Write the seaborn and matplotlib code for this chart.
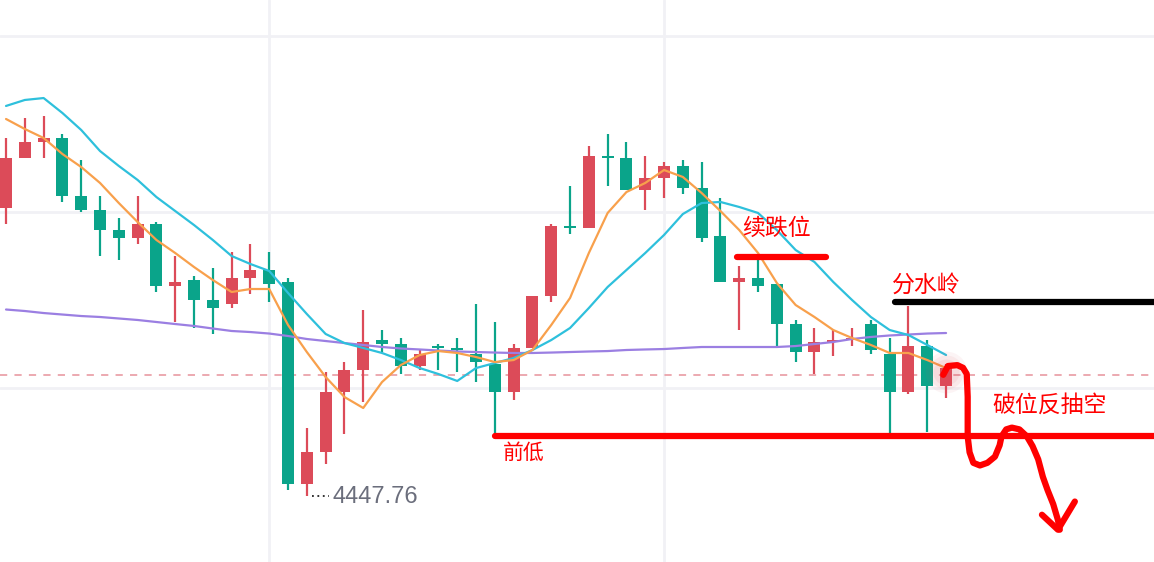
import numpy as np
import pandas as pd
import matplotlib
matplotlib.use("Agg")
import matplotlib.pyplot as plt
import seaborn as sns

# ---------------- data ----------------
opens = [4480.45, 4486.14, 4487.95, 4488.41, 4481.82, 4480.23, 4477.95, 4477.05, 4478.64, 4471.59,
         4472.27, 4470.00, 4469.55, 4472.50, 4473.41, 4472.05, 4449.09, 4452.73, 4459.55, 4462.05,
         4465.45, 4465.00, 4462.50, 4464.77, 4464.55, 4463.86, 4462.73, 4459.55, 4464.55, 4470.45,
         4478.41, 4478.18, 4486.36, 4486.14, 4482.50, 4483.86, 4485.23, 4482.73, 4477.27, 4472.05,
         4472.50, 4471.82, 4467.27, 4464.09, 4465.23, 4465.45, 4467.27, 4463.86, 4459.55, 4464.77,
         4460.23]
highs = [4488.41, 4490.68, 4490.91, 4488.86, 4485.91, 4481.82, 4479.32, 4481.82, 4478.86, 4475.00,
         4472.73, 4473.64, 4475.45, 4476.36, 4475.45, 4472.50, 4455.45, 4461.82, 4462.95, 4468.86,
         4466.59, 4465.68, 4464.32, 4465.00, 4465.68, 4469.55, 4467.50, 4465.00, 4470.45, 4478.64,
         4482.95, 4487.50, 4488.86, 4487.95, 4486.36, 4485.68, 4485.91, 4485.68, 4481.59, 4473.86,
         4474.55, 4471.82, 4467.73, 4466.82, 4466.59, 4466.82, 4467.73, 4465.68, 4469.32, 4465.45,
         4462.73]
lows = [4478.64, 4486.14, 4486.14, 4481.14, 4480.00, 4475.00, 4474.55, 4476.36, 4470.91, 4467.50,
        4466.82, 4466.14, 4469.09, 4470.68, 4469.77, 4448.41, 4447.76, 4451.36, 4454.77, 4458.41,
        4464.09, 4461.59, 4462.05, 4462.05, 4461.82, 4460.68, 4454.77, 4458.64, 4464.55, 4469.77,
        4477.50, 4478.18, 4482.95, 4482.50, 4480.23, 4481.59, 4482.05, 4476.59, 4472.05, 4466.59,
        4470.91, 4464.77, 4462.95, 4461.59, 4463.64, 4464.77, 4463.86, 4454.77, 4459.32, 4455.00,
        4458.86]
closes = [4486.14, 4487.95, 4488.41, 4481.82, 4480.23, 4477.95, 4477.05, 4478.64, 4471.59, 4472.05,
          4470.00, 4469.09, 4472.50, 4473.41, 4471.82, 4449.09, 4452.73, 4459.55, 4462.05, 4465.23,
          4465.00, 4462.50, 4463.86, 4464.55, 4464.32, 4462.95, 4459.55, 4464.55, 4470.45, 4478.41,
          4478.18, 4486.36, 4486.14, 4482.50, 4483.86, 4485.23, 4482.73, 4477.05, 4472.05, 4472.50,
          4471.59, 4467.27, 4464.09, 4465.23, 4465.45, 4465.68, 4464.32, 4459.55, 4464.77, 4460.23,
          4462.27]

ma_short = [4490.57, 4489.43, 4488.41, 4486.59, 4485.11, 4483.30, 4481.02, 4478.86, 4476.82, 4475.34,
            4473.75, 4472.27, 4470.91, 4471.25, 4471.25, 4467.16, 4464.09, 4461.25, 4458.98, 4457.73,
            4460.68, 4462.61, 4463.75, 4464.20, 4463.98, 4463.52, 4462.95, 4463.18, 4464.32, 4467.16,
            4470.23, 4475.34, 4479.89, 4482.27, 4483.30, 4484.77, 4483.98, 4482.16, 4480.11, 4477.95,
            4475.34, 4471.93, 4469.43, 4468.07, 4466.59, 4465.68, 4464.89, 4463.98, 4463.98, 4463.18,
            4462.27]
ma_mid = [4492.05, 4492.73, 4492.95, 4491.25, 4489.32, 4486.93, 4485.23, 4483.64, 4481.70, 4480.11,
          4478.52, 4476.82, 4475.00, 4474.09, 4473.30, 4470.80, 4468.41, 4466.14, 4465.11, 4464.55,
          4463.98, 4463.18, 4462.27, 4461.59, 4460.80, 4462.27, 4462.84, 4463.41, 4464.32, 4465.45,
          4466.82, 4469.09, 4471.48, 4473.41, 4475.34, 4477.39, 4479.77, 4481.02, 4481.14, 4480.57,
          4479.89, 4477.95, 4475.68, 4474.32, 4472.05, 4470.00, 4468.07, 4466.59, 4466.02, 4464.89,
          4463.75]
ma_long = [4468.92, 4468.75, 4468.52, 4468.35, 4468.18, 4468.07, 4467.90, 4467.73, 4467.50, 4467.27,
           4467.05, 4466.76, 4466.48, 4466.36, 4466.19, 4465.91, 4465.57, 4465.34, 4465.11, 4464.89,
           4464.66, 4464.49, 4464.38, 4464.26, 4464.15, 4464.09, 4464.03, 4463.98, 4463.98, 4464.03,
           4464.09, 4464.15, 4464.20, 4464.32, 4464.38, 4464.43, 4464.55, 4464.66, 4464.66, 4464.66,
           4464.66, 4464.66, 4464.77, 4465.00, 4465.23, 4465.57, 4465.80, 4465.97, 4466.08, 4466.19,
           4466.25]

last_price = 4461.48
low_label = "4447.76"

# hand-drawn annotations (bar index, price)
prev_low_level = 4454.55
prev_low_start = 26
cont_drop_level = 4474.89
cont_drop_span = [38.9, 43.6]
watershed_level = 4469.77
watershed_start = 47.3

labels = ["前低", "续跌位", "分水岭", "破位反抽空"]
label_pos = [(27.55, 4452.6), (40.96, 4478.1), (48.94, 4471.7), (55.5, 4458.1)]

sketch_x = [49.85, 50.1, 50.6, 50.9, 51.1, 51.15, 51.15, 51.25, 51.45, 51.8, 52.2, 52.6, 52.85,
            52.95, 53.2, 53.5, 53.9, 54.3, 54.6, 54.9, 55.15, 55.4, 55.7, 55.95, 56.05]
sketch_y = [4461.5, 4462.5, 4462.6, 4462.3, 4461.6, 4459.0, 4454.5, 4452.7, 4451.5, 4451.2,
            4451.5, 4452.2, 4453.5, 4454.5, 4455.3, 4455.5, 4455.3, 4454.5, 4453.4, 4451.9, 4449.9,
            4448.4, 4446.8, 4445.0, 4443.9]
arrow_x = [55.1, 55.95, 56.85]
arrow_y = [4445.6, 4443.9, 4447.1]

# ---------------- style ----------------
sns.set_style("white")
plt.rcParams['font.family'] = ['Noto Sans CJK SC', 'DejaVu Sans']

RED = "#dc4b59"
GREEN = "#0aa48a"
C_SHORT = "#f8a04c"
C_MID = "#2ec0dc"
C_LONG = "#9b7fe2"

fig = plt.figure(figsize=(11.54, 5.62), dpi=100)
ax = fig.add_axes([0, 0, 1, 1])

n = len(opens)
idx = np.arange(n)
df = pd.DataFrame({"i": idx, "o": opens, "h": highs, "l": lows, "c": closes,
                   "s": ma_short, "m": ma_mid, "g": ma_long})

colors = [RED if c >= o else GREEN for o, c in zip(df.o, df.c)]
# wicks
ax.vlines(df.i, df.l, df.h, colors=colors, lw=1.6, zorder=3)
# bodies
body_bottom = np.minimum(df.o, df.c)
body_h = np.maximum(np.abs(df.c - df.o), 0.25)
ax.bar(df.i, body_h, bottom=body_bottom, width=0.64, color=colors, zorder=3, linewidth=0)

# moving averages
sns.lineplot(data=df, x="i", y="g", color=C_LONG, lw=1.6, ax=ax, zorder=4)
sns.lineplot(data=df, x="i", y="m", color=C_MID, lw=1.6, ax=ax, zorder=4)
sns.lineplot(data=df, x="i", y="s", color=C_SHORT, lw=1.6, ax=ax, zorder=4)

# glow around last candle
for s, a in [(900, 0.06), (600, 0.07), (350, 0.08)]:
    ax.scatter([idx[-1]], [closes[-1] - 0.4], s=s, color=RED, alpha=a, lw=0, zorder=5)

# last price dashed line
ax.axhline(last_price, color="#eba3aa", lw=1.3, ls=(0, (4, 4)), zorder=2)

# low label
ax.plot([16.25, 17.2], [lows[16], lows[16]], color="#222222", lw=1.3, ls=(0, (1, 2)), zorder=5)
ax.text(17.35, lows[16] - 0.2, low_label, color="#6b6e7c", fontsize=17,
        family=['Liberation Sans', 'DejaVu Sans'], va="center", ha="left", zorder=6)

# hand-drawn lines
xmax = 61.06
ax.plot([prev_low_start, xmax], [prev_low_level, prev_low_level], color="#ff0000", lw=4.5,
        solid_capstyle="round", zorder=6)
ax.plot(cont_drop_span, [cont_drop_level, cont_drop_level], color="#ff0000", lw=4.5,
        solid_capstyle="round", zorder=6)
ax.plot([watershed_start, xmax], [watershed_level, watershed_level], color="#000000", lw=4.5,
        solid_capstyle="round", zorder=6)
ax.plot(sketch_x, sketch_y, color="#ff0000", lw=4.5, solid_capstyle="round",
        solid_joinstyle="round", zorder=7)
ax.plot(arrow_x, arrow_y, color="#ff0000", lw=4.5, solid_capstyle="round",
        solid_joinstyle="round", zorder=7)

sizes = [15, 16.5, 16.5, 16.5]
for t, (x, y), fs in zip(labels, label_pos, sizes):
    ax.text(x, y, t, color="#ff0000", fontsize=fs, ha="center", va="center", zorder=8,
            family=['Noto Sans CJK SC', 'DejaVu Sans'], fontweight="medium")

# axes / grid
ax.set_xlim(-0.32, xmax)
ax.set_ylim(4440.23, 4504.09)
ax.set_xticks([14, 35])
ax.set_yticks([4460, 4480, 4500])
ax.grid(True, color="#f1f1f5", lw=2)
ax.set_axisbelow(True)
ax.tick_params(length=0, labelbottom=False, labelleft=False)
ax.set_xlabel("")
ax.set_ylabel("")
for sp in ax.spines.values():
    sp.set_visible(False)
if ax.get_legend():
    ax.get_legend().remove()

fig.savefig("out.png", dpi=100)
